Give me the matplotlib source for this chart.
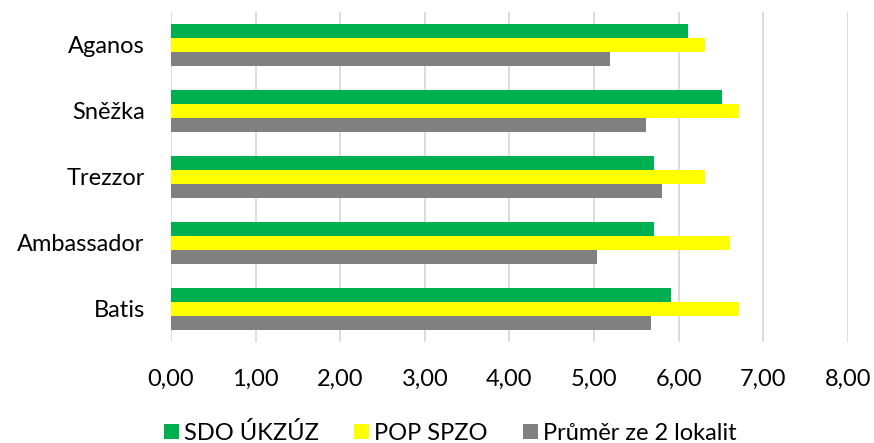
import matplotlib.pyplot as plt
import numpy as np

categories = ["Aganos", "Sněžka", "Trezzor", "Ambassador", "Batis"]
sdo_ukzuz = [6.11, 6.51, 5.71, 5.71, 5.91]
pop_spzo = [6.31, 6.71, 6.31, 6.61, 6.71]
prumer = [5.19, 5.62, 5.80, 5.03, 5.67]
series_names = ["SDO ÚKZÚZ", "POP SPZO", "Průměr ze 2 lokalit"]
colors = ["#00b050", "#ffff00", "#808080"]
xticks = [0, 1, 2, 3, 4, 5, 6, 7, 8]

plt.rcParams['font.family'] = ['Lato', 'DejaVu Sans']

fig = plt.figure(figsize=(8.74, 4.43), dpi=100)
ax = fig.add_axes([0.1957, 0.228, 0.7743, 0.745])

n = len(categories)
y = np.arange(n)[::-1]
h = 0.212
for i, (vals, name, c) in enumerate(zip([sdo_ukzuz, pop_spzo, prumer], series_names, colors)):
    ax.barh(y + (1 - i) * h, vals, height=h, color=c, label=name, zorder=3)

ax.set_xlim(0, 8)
ax.set_ylim(-0.5, n - 0.5)
ax.set_xticks(xticks)
ax.set_xticklabels([f"{t:.2f}".replace(".", ",") for t in xticks], fontsize=17)
ax.set_yticks(y)
ax.set_yticklabels(categories, fontsize=17)
ax.tick_params(axis='x', length=0, pad=19)
ax.tick_params(axis='y', length=0, pad=19)
ax.grid(axis='x', color='#d9d9d9', linewidth=1.3, zorder=0)
for s in ax.spines.values():
    s.set_visible(False)

ax.legend(loc='center', bbox_to_anchor=(0.515, 0.023), bbox_transform=fig.transFigure,
          ncol=3, frameon=False, fontsize=17, handlelength=0.64, handleheight=0.64,
          handletextpad=0.2, columnspacing=1.5, borderpad=0)

fig.savefig("out.png", dpi=100)
